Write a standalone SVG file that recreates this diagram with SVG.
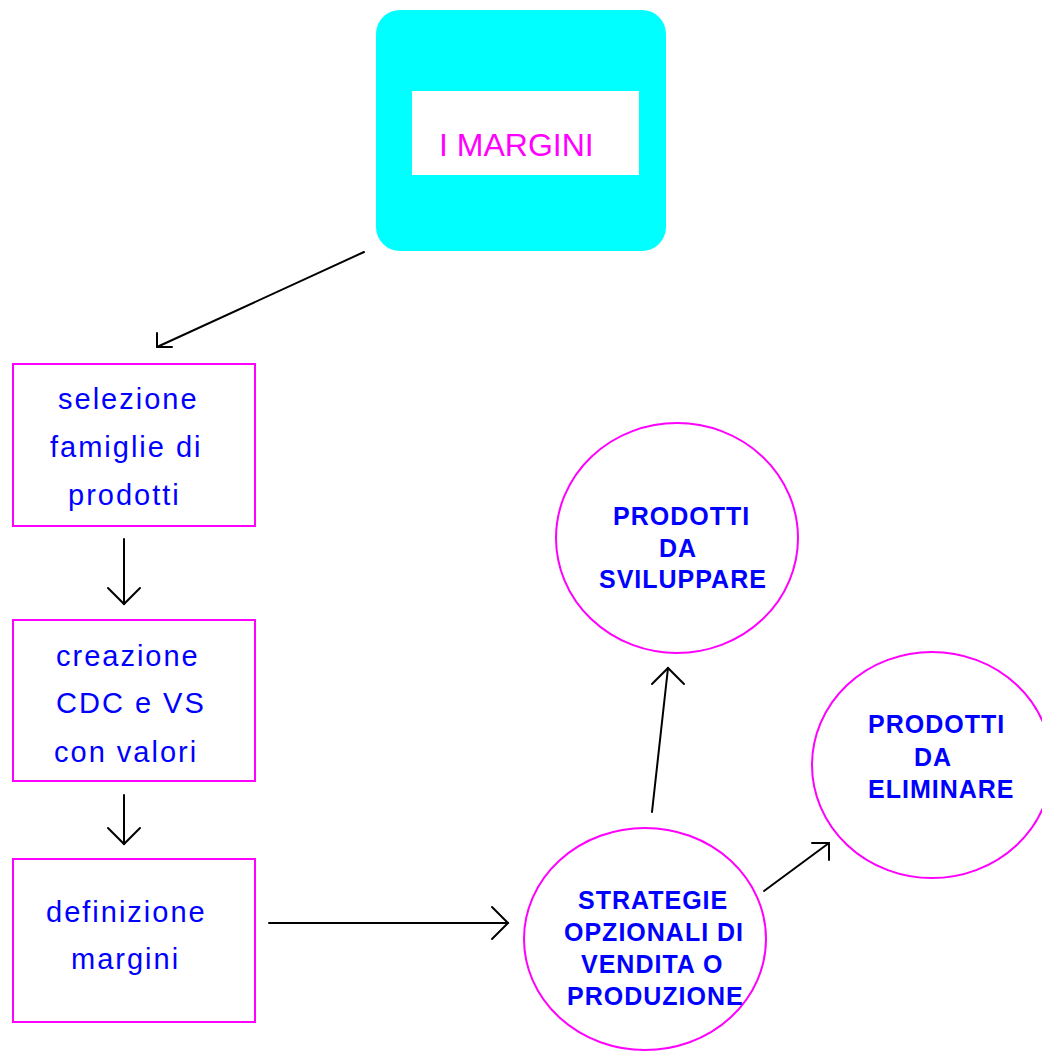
<svg xmlns="http://www.w3.org/2000/svg" width="1042" height="1052" viewBox="0 0 1042 1052">
  <style>
    .box { fill: #ffffff; stroke: #ff00ff; stroke-width: 2; }
    .oval { fill: #ffffff; stroke: #ff00ff; stroke-width: 2; }
    .step { font-family: "Liberation Sans", Arial, sans-serif; font-size: 29px; fill: #0000ff; letter-spacing: 2px; }
    .goal { font-family: "Liberation Sans", Arial, sans-serif; font-size: 25px; font-weight: bold; fill: #0000ff; letter-spacing: 1px; }
    .title { font-family: "Liberation Sans", Arial, sans-serif; font-size: 32px; fill: #ff00ff; }
    .link { fill: none; stroke: #000000; stroke-width: 2; stroke-linecap: round; stroke-linejoin: miter; }
  </style>
  <rect width="1042" height="1052" fill="#ffffff"/>

  <g id="title">
    <rect x="376" y="10" width="290" height="241" rx="24" ry="24" fill="#00ffff"/>
    <rect x="412" y="91" width="227" height="84" fill="#ffffff"/>
    <text class="title" x="439" y="156">I MARGINI</text>
  </g>

  <g id="selezione">
    <rect class="box" x="13" y="364" width="242" height="162"/>
    <text class="step" x="58" y="409">selezione</text>
    <text class="step" x="50" y="457">famiglie di</text>
    <text class="step" x="68" y="505">prodotti</text>
  </g>

  <g id="creazione">
    <rect class="box" x="13" y="620" width="242" height="161"/>
    <text class="step" x="56" y="666">creazione</text>
    <text class="step" x="56" y="713">CDC e VS</text>
    <text class="step" x="54" y="762">con valori</text>
  </g>

  <g id="definizione">
    <rect class="box" x="13" y="859" width="242" height="163"/>
    <text class="step" x="46" y="922">definizione</text>
    <text class="step" x="71" y="969">margini</text>
  </g>

  <g id="strategie">
    <ellipse class="oval" cx="645" cy="939" rx="121" ry="111"/>
    <text class="goal" x="578" y="909">STRATEGIE</text>
    <text class="goal" x="564" y="941">OPZIONALI DI</text>
    <text class="goal" x="581" y="973">VENDITA O</text>
    <text class="goal" x="567" y="1005">PRODUZIONE</text>
  </g>

  <g id="sviluppare">
    <ellipse class="oval" cx="677" cy="538" rx="121" ry="115"/>
    <text class="goal" x="613" y="525">PRODOTTI</text>
    <text class="goal" x="659" y="557">DA</text>
    <text class="goal" x="599" y="588">SVILUPPARE</text>
  </g>

  <g id="eliminare">
    <ellipse class="oval" cx="932" cy="765" rx="120" ry="113"/>
    <text class="goal" x="868" y="733">PRODOTTI</text>
    <text class="goal" x="914" y="766">DA</text>
    <text class="goal" x="868" y="798">ELIMINARE</text>
  </g>

  <g id="connectors">
    <!-- title to selezione -->
    <line class="link" x1="364" y1="252" x2="157" y2="347"/>
    <polyline class="link" points="157,333 157,347 172,347"/>
    <!-- selezione to creazione -->
    <line class="link" x1="124" y1="539" x2="124" y2="604"/>
    <polyline class="link" points="108,588 124,604 140,588"/>
    <!-- creazione to definizione -->
    <line class="link" x1="124" y1="795" x2="124" y2="844"/>
    <polyline class="link" points="108,828 124,844 140,828"/>
    <!-- definizione to strategie -->
    <line class="link" x1="269" y1="923" x2="508" y2="923"/>
    <polyline class="link" points="492,907 508,923 492,939"/>
    <!-- strategie to sviluppare -->
    <line class="link" x1="652" y1="812" x2="668" y2="668"/>
    <polyline class="link" points="652,684 668,668 684,684"/>
    <!-- strategie to eliminare -->
    <line class="link" x1="764" y1="891" x2="829" y2="843"/>
    <polyline class="link" points="812,843 829,843 829,860"/>
  </g>
</svg>
